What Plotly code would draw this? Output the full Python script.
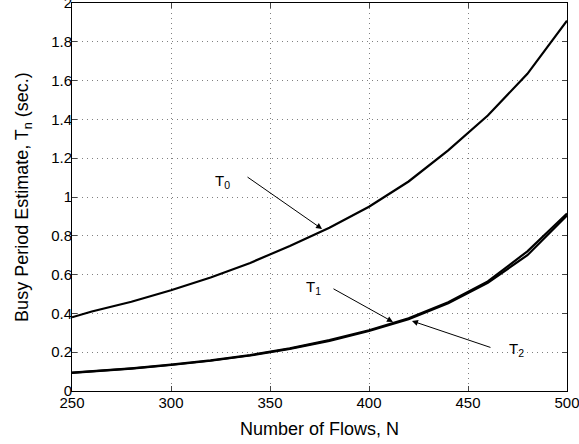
import plotly.graph_objects as go

N = [250, 260, 280, 300, 320, 340, 360, 380, 400, 420, 440, 460, 480, 500]
T0 = [0.38, 0.41, 0.46, 0.519, 0.585, 0.66, 0.748, 0.842, 0.95, 1.08, 1.24, 1.42, 1.635, 1.909]
T1 = [0.095, 0.102, 0.117, 0.136, 0.158, 0.185, 0.22, 0.262, 0.313, 0.375, 0.458, 0.565, 0.72, 0.915]
T2 = [0.093, 0.100, 0.115, 0.134, 0.156, 0.183, 0.217, 0.258, 0.309, 0.37, 0.452, 0.558, 0.70, 0.905]

xticks = [250, 300, 350, 400, 450, 500]
yticks = [0, 0.2, 0.4, 0.6, 0.8, 1, 1.2, 1.4, 1.6, 1.8, 2]
yticklabels = ["0", "0.2", "0.4", "0.6", "0.8", "1", "1.2", "1.4", "1.6", "1.8", "2"]

FONT = "Liberation Sans, Arial, sans-serif"

fig = go.Figure()
for name, ys in [("T0", T0), ("T1", T1), ("T2", T2)]:
    fig.add_trace(go.Scatter(x=N, y=ys, mode="lines", name=name,
                             line=dict(color="black", width=2.2), showlegend=False))

def arrow(x, y, ax, ay):
    fig.add_annotation(x=x, y=y, ax=ax, ay=ay, xref="x", yref="y", axref="x", ayref="y",
                       text="", showarrow=True, arrowhead=2, arrowsize=1.2, arrowwidth=1,
                       arrowcolor="black")

arrow(376.3, 0.835, 337.9, 1.108)
arrow(412.1, 0.356, 381.3, 0.531)
arrow(421.7, 0.361, 462.1, 0.222)

def label(x, y, sub):
    fig.add_annotation(x=x, y=y, xref="x", yref="y", text="T<sub>%s</sub>" % sub,
                       showarrow=False, font=dict(family=FONT, size=15, color="black"))

label(326.0, 1.078, "0")
label(372.2, 0.531, "1")
label(474.5, 0.215, "2")

fig.update_layout(
    width=579, height=444,
    margin=dict(l=72, r=12, t=3, b=53, autoexpand=False),
    paper_bgcolor="white", plot_bgcolor="white",
    font=dict(family=FONT, size=15, color="black"),
)
common = dict(ticks="inside", ticklen=5, showline=True, linecolor="black", linewidth=1,
              mirror="ticks", showgrid=True, gridcolor="#808080", griddash="1px,4px",
              gridwidth=1, zeroline=False, automargin=False, ticklabeloverflow="allow",
              tickfont=dict(size=15))
fig.update_xaxes(range=[250, 500], tickvals=xticks, ticklabelstandoff=-2,
                 title=dict(text="Number of Flows, N", standoff=12), **common)
fig.update_yaxes(range=[0, 2], tickvals=yticks, ticktext=yticklabels, ticklabelstandoff=-4,
                 title=dict(text="Busy Period Estimate, T<sub>n</sub> (sec.)", standoff=17), **common)

fig.write_html("out.html", config={"displayModeBar": False},
               post_script="document.body.style.margin='0';document.body.style.overflow='hidden';")
